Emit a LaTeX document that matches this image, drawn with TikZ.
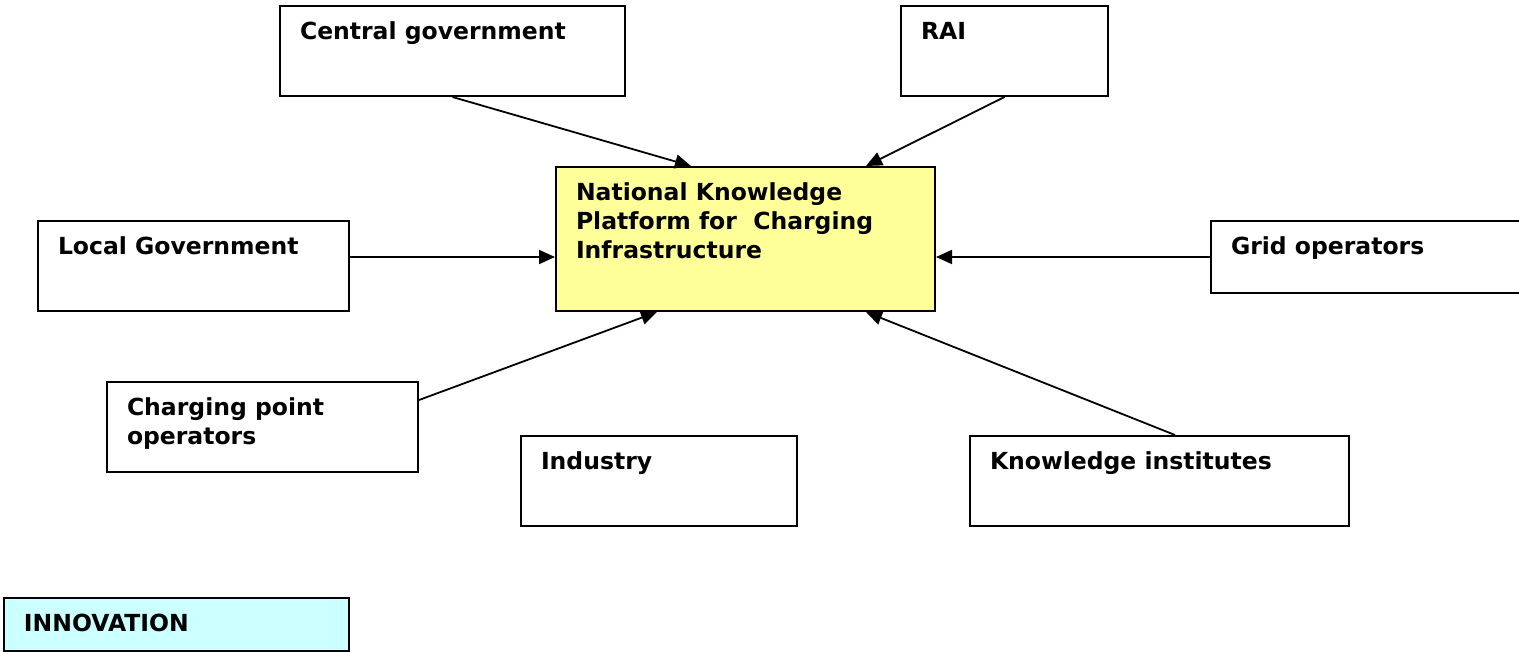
\documentclass[tikz,border=0pt]{standalone}
\usepackage{fontspec}
\setmainfont{DejaVu Sans}
\usetikzlibrary{arrows.meta}

\definecolor{platform}{HTML}{FFFF99}
\definecolor{innov}{HTML}{CCFFFF}

% text sits in the upper left corner of each box
\newcommand{\boxtext}[3]{\parbox[t][#2][t]{#1}{\raggedright\leftskip=20pt\rule{0pt}{33pt}#3}}

\begin{document}
\begin{tikzpicture}[x=1pt,y=-1pt]
    \useasboundingbox (0,0) rectangle (1519,651);

    \begin{scope}[every node/.style={draw,line width=2pt,anchor=north west,inner sep=0pt,
                  font=\bfseries\fontsize{23.5}{29}\selectfont}]
        \node (cg) at (279,5) {\boxtext{345pt}{90pt}{Central government}};
        \node (rai) at (900,5) {\boxtext{207pt}{90pt}{RAI}};
        \node[fill=platform] (nk) at (555,166) {\boxtext{379pt}{144pt}{National Knowledge\\ Platform for~~Charging\\ Infrastructure}};
        \node (lg) at (37,220) {\boxtext{311pt}{90pt}{Local Government}};
        \node (go) at (1210,220) {\boxtext{312pt}{72pt}{Grid operators}};
        \node (cp) at (106,381) {\boxtext{311pt}{90pt}{Charging point\\ operators}};
        \node (ind) at (520,435) {\boxtext{276pt}{90pt}{Industry}};
        \node (ki) at (969,435) {\boxtext{379pt}{90pt}{Knowledge institutes}};
        \node[fill=innov] (inn) at (3,597) {\boxtext{345pt}{53pt}{INNOVATION}}; % legend
    \end{scope}

    \begin{scope}[every path/.style={line width=1.8pt,-{Triangle[length=16pt,width=14pt]}}]
        % everything feeds the platform
        \draw (cg.south) -- ([xshift=136pt]nk.north west);
        \draw (rai.south) -- ([xshift=311pt]nk.north west);
        \draw ([yshift=9pt]lg.east) -- ([yshift=9pt]lg.east -| nk.west);
        \draw (go.west) -- (go.west -| nk.east);
        \draw ([yshift=27pt]cp.east) -- ([xshift=102pt]nk.south west);
        \draw ([xshift=206pt]ki.north west) -- ([xshift=311pt]nk.south west);
    \end{scope}

\end{tikzpicture}
\end{document}
